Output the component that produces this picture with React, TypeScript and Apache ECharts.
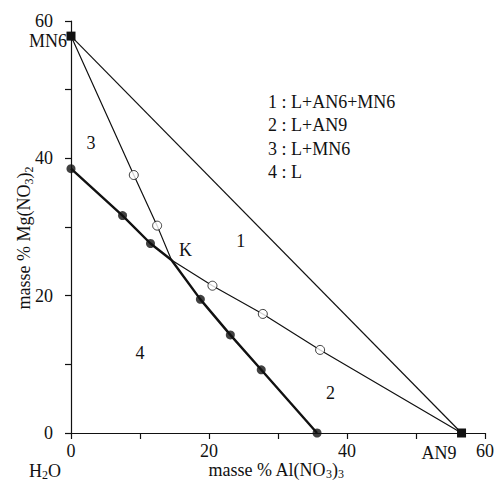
import React, { useEffect, useRef } from "react";
import * as echarts from "echarts";

const FONT = "Liberation Serif";
const FS = 18;

// Compounds (masse % Al(NO3)3, masse % Mg(NO3)2)
const mn6Point = [0, 57.8];
const an9Point = [56.6, 0];
const kPoint = [14.56, 25.19];

// Liquidus (filled circles)
const liquidusX = [0, 7.47, 11.52, 18.75, 23.09, 27.57, 35.66];
const liquidusY = [38.5, 31.66, 27.6, 19.46, 14.29, 9.2, 0];

// Open circles on MN6 – K branch
const openMn6X = [9.1, 12.48];
const openMn6Y = [37.57, 30.2];

// Open circles on K – AN9 branch
const openAn9X = [20.5, 27.8, 36.1];
const openAn9Y = [21.45, 17.34, 12.1];

// Region labels
const regionNames = ["1", "2", "3", "4", "K"];
const regionX = [24.6, 37.6, 2.9, 10.0, 16.6];
const regionY = [28.0, 5.8, 42.3, 11.7, 26.6];

const legendLines = ["1 : L+AN6+MN6", "2 : L+AN9", "3 : L+MN6", "4 : L"];

const xTicks = [0, 20, 40, 60];
const yTicks = [0, 20, 40, 60];

const zip = (xs: number[], ys: number[]) => xs.map((x, i) => [x, ys[i]]);

const makeRich = (lh: number) => ({
  a: { fontFamily: FONT, fontSize: FS, color: "#111", lineHeight: lh },
  s: { fontFamily: FONT, fontSize: 12, color: "#111", verticalAlign: "bottom", lineHeight: 12 },
});

const richText = (x: number, y: number, text: string, rotation = 0, lh = 22) => ({
  type: "text",
  x,
  y,
  rotation,
  style: {
    text,
    rich: makeRich(lh),
    fontFamily: FONT,
    fontSize: FS,
    fill: "#111",
    align: "center",
    verticalAlign: "middle",
  },
});

export default function App() {
  const ref = useRef<HTMLDivElement>(null);
  useEffect(() => {
    if (!ref.current) return;
    const chart = echarts.init(ref.current, null, { renderer: "svg" });

    const liquidus = zip(liquidusX, liquidusY);
    const liquidusWithK = [...liquidus.slice(0, 3), kPoint, ...liquidus.slice(3)];
    const openMn6 = zip(openMn6X, openMn6Y);
    const openAn9 = zip(openAn9X, openAn9Y);

    const axisCommon = {
      min: 0,
      max: 60,
      interval: 10,
      splitLine: { show: false },
      axisLine: { show: true, onZero: false, lineStyle: { color: "#111", width: 1.2 } },
      axisTick: { show: true, inside: false, length: 6, lineStyle: { color: "#111", width: 1.2 } },
    };

    const staticGraphics: any[] = [
      ...legendLines.map((t, i) => ({
        type: "text",
        left: 268,
        top: 93 + i * 23.3,
        style: { text: t, fontFamily: FONT, fontSize: FS, fill: "#111" },
      })),
      {
        type: "text",
        x: 67,
        y: 41,
        style: { text: "MN6", fontFamily: FONT, fontSize: FS, fill: "#111", align: "right", verticalAlign: "middle" },
      },
      {
        type: "text",
        x: 439,
        y: 453,
        style: { text: "AN9", fontFamily: FONT, fontSize: FS, fill: "#111", align: "center", verticalAlign: "middle" },
      },
      richText(45, 471, "{a|H}{s|2}{a|O}", 0, 20),
      richText(24, 238, "{a|masse % Mg(NO}{s|3}{a|)}{s|2}", Math.PI / 2),
      richText(276, 470, "{a|masse % Al(NO}{s|3}{a|)}{s|3}", 0, 20),
    ];

    chart.setOption({
      animation: false,
      backgroundColor: "#fff",
      grid: { left: 71, right: 9, top: 21, bottom: 51, containLabel: false, outerBoundsMode: "none" },
      xAxis: {
        type: "value",
        ...axisCommon,
        axisLabel: {
          margin: 9,
          fontFamily: FONT,
          fontSize: FS,
          color: "#111",
          formatter: (v: number) => (xTicks.includes(v) ? String(v) : ""),
        },
      },
      yAxis: {
        type: "value",
        ...axisCommon,
        axisLabel: {
          margin: 18,
          fontFamily: FONT,
          fontSize: FS,
          color: "#111",
          formatter: (v: number) => (yTicks.includes(v) ? String(v) : ""),
        },
      },
      series: [
        {
          type: "line",
          data: [mn6Point, an9Point],
          symbol: "rect",
          symbolSize: 9,
          itemStyle: { color: "#111" },
          lineStyle: { color: "#111", width: 1.2 },
          z: 3,
        },
        {
          type: "line",
          data: [mn6Point, ...openMn6, kPoint],
          showSymbol: false,
          symbol: "none",
          lineStyle: { color: "#111", width: 1.2 },
        },
        {
          type: "line",
          data: [kPoint, ...openAn9, an9Point],
          showSymbol: false,
          symbol: "none",
          lineStyle: { color: "#111", width: 1.2 },
        },
        {
          type: "line",
          data: liquidusWithK,
          symbol: "none",
          lineStyle: { color: "#111", width: 2.4 },
        },
        {
          type: "scatter",
          data: liquidus,
          symbol: "circle",
          symbolSize: 9,
          itemStyle: { color: "#111" },
          z: 4,
        },
        {
          type: "scatter",
          data: [...openMn6, ...openAn9],
          symbol: "circle",
          symbolSize: 9,
          itemStyle: { color: "#fff", borderColor: "#111", borderWidth: 1 },
          z: 4,
        },
      ],
      graphic: staticGraphics,
    });

    // Region labels placed at data coordinates through the chart's own scales
    const regionGraphics = regionNames.map((n, i) => {
      const [px, py] = chart.convertToPixel({ gridIndex: 0 }, [regionX[i], regionY[i]]) as number[];
      return {
        type: "text",
        x: px,
        y: py,
        z: 10,
        style: { text: n, fontFamily: FONT, fontSize: FS, fill: "#111", align: "center", verticalAlign: "middle" },
      };
    });
    chart.setOption({ graphic: [...staticGraphics, ...regionGraphics] });

    return () => chart.dispose();
  }, []);
  return <div ref={ref} style={{ width: 494, height: 484, position: "absolute", left: 0, top: 0 }} />;
}
